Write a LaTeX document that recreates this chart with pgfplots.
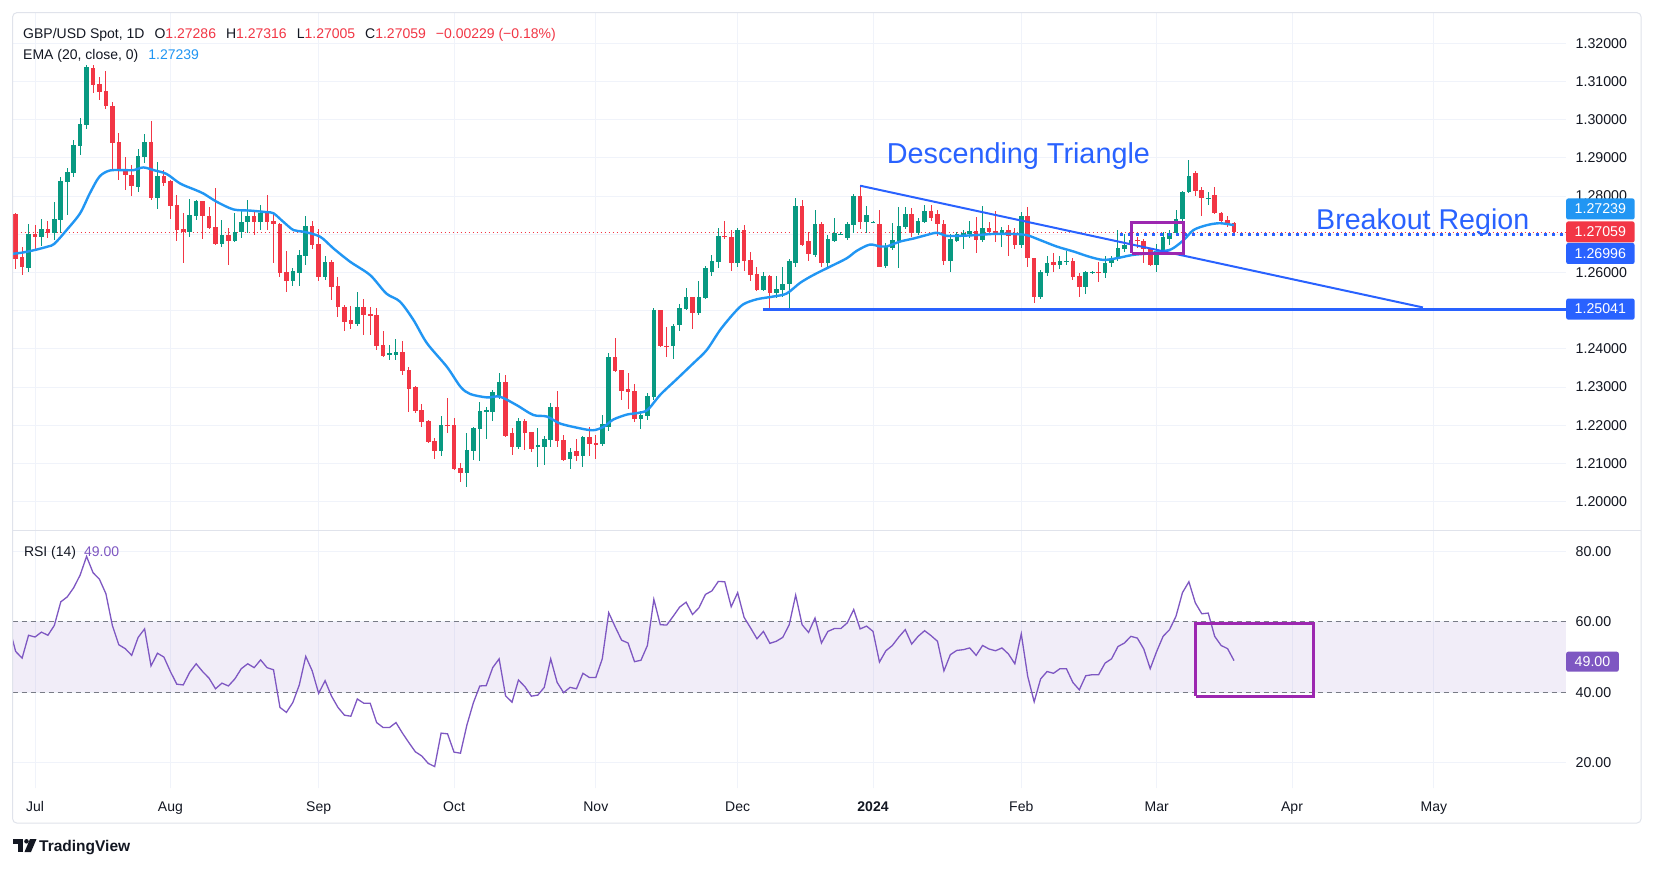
\documentclass[border=0pt]{standalone}
\usepackage{fontspec}
\setmainfont{Liberation Sans}
\usepackage{pgfplots}
\usepackage{pgfplotstable}
\pgfplotsset{compat=1.18}
\definecolor{up}{HTML}{089981}
\definecolor{dn}{HTML}{F23645}
\definecolor{ema}{HTML}{2196F3}
\definecolor{drw}{HTML}{2962FF}
\definecolor{rsi}{HTML}{7E57C2}
\definecolor{box}{HTML}{9C27B0}
\definecolor{txt}{HTML}{131722}
\definecolor{gridc}{HTML}{F0F3FA}
\definecolor{framec}{HTML}{E0E3EB}
\definecolor{dashc}{HTML}{787B86}
\newcommand{\fs}[1]{\fontsize{#1}{#1}\selectfont}

\pgfplotstableread{
i o h l c
-1 1.2613 1.2727 1.2601 1.2701
1 1.2694 1.2739 1.2670 1.2713
3 1.2703 1.2784 1.2685 1.2739
4 1.2738 1.2851 1.2703 1.2840
5 1.2837 1.2873 1.2751 1.2862
6 1.2860 1.2947 1.2851 1.2934
7 1.2931 1.3004 1.2908 1.2989
8 1.2987 1.3143 1.2975 1.3139
16 1.2825 1.2923 1.2812 1.2906
17 1.2902 1.2963 1.2888 1.2941
19 1.2796 1.2889 1.2765 1.2853
24 1.2706 1.2792 1.2692 1.2751
25 1.2749 1.2790 1.2738 1.2786
29 1.2676 1.2738 1.2668 1.2698
31 1.2683 1.2755 1.2679 1.2707
32 1.2707 1.2764 1.2690 1.2733
33 1.2731 1.2790 1.2703 1.2748
35 1.2733 1.2777 1.2711 1.2757
40 1.2579 1.2611 1.2565 1.2605
41 1.2600 1.2659 1.2565 1.2645
42 1.2643 1.2748 1.2620 1.2722
45 1.2589 1.2643 1.2580 1.2627
50 1.2465 1.2549 1.2460 1.2510
55 1.2386 1.2410 1.2371 1.2388
56 1.2384 1.2426 1.2371 1.2391
63 1.2133 1.2224 1.2120 1.2201
67 1.2076 1.2179 1.2039 1.2135
68 1.2133 1.2196 1.2109 1.2192
69 1.2190 1.2260 1.2107 1.2237
70 1.2237 1.2249 1.2164 1.2239
71 1.2236 1.2292 1.2210 1.2286
72 1.2275 1.2338 1.2270 1.2313
75 1.2142 1.2220 1.2137 1.2212
78 1.2144 1.2194 1.2092 1.2148
79 1.2144 1.2173 1.2095 1.2165
80 1.2162 1.2258 1.2144 1.2248
83 1.2112 1.2140 1.2085 1.2130
85 1.2120 1.2173 1.2092 1.2169
88 1.2151 1.2227 1.2145 1.2203
89 1.2196 1.2390 1.2186 1.2380
94 1.2217 1.2238 1.2190 1.2227
95 1.2224 1.2284 1.2214 1.2277
96 1.2273 1.2508 1.2265 1.2502
99 1.2408 1.2464 1.2374 1.2460
100 1.2463 1.2517 1.2448 1.2506
101 1.2504 1.2560 1.2502 1.2536
103 1.2493 1.2578 1.2489 1.2536
104 1.2534 1.2617 1.2530 1.2611
105 1.2602 1.2646 1.2592 1.2630
106 1.2628 1.2716 1.2611 1.2696
109 1.2624 1.2716 1.2615 1.2711
113 1.2554 1.2602 1.2552 1.2591
115 1.2547 1.2591 1.2534 1.2557
116 1.2554 1.2615 1.2535 1.2570
117 1.2569 1.2635 1.2502 1.2630
118 1.2626 1.2796 1.2614 1.2774
121 1.2646 1.2764 1.2641 1.2727
123 1.2626 1.2698 1.2615 1.2688
124 1.2683 1.2744 1.2681 1.2703
125 1.2701 1.2706 1.2697 1.2701
126 1.2691 1.2733 1.2685 1.2726
127 1.2724 1.2805 1.2703 1.2800
129 1.2733 1.2774 1.2703 1.2751
130 1.2731 1.2734 1.2729 1.2733
132 1.2617 1.2678 1.2612 1.2666
133 1.2663 1.2729 1.2658 1.2685
134 1.2683 1.2771 1.2613 1.2722
135 1.2720 1.2771 1.2714 1.2753
137 1.2704 1.2744 1.2699 1.2736
138 1.2733 1.2777 1.2730 1.2761
142 1.2631 1.2701 1.2600 1.2687
143 1.2683 1.2707 1.2680 1.2701
144 1.2700 1.2711 1.2662 1.2703
145 1.2701 1.2736 1.2690 1.2709
147 1.2685 1.2775 1.2680 1.2716
150 1.2701 1.2720 1.2668 1.2711
153 1.2672 1.2759 1.2665 1.2748
156 1.2537 1.2607 1.2530 1.2602
157 1.2600 1.2643 1.2590 1.2626
159 1.2619 1.2642 1.2610 1.2631
160 1.2628 1.2657 1.2620 1.2630
163 1.2563 1.2604 1.2543 1.2600
164 1.2599 1.2603 1.2596 1.2601
166 1.2598 1.2643 1.2585 1.2624
167 1.2624 1.2644 1.2615 1.2635
168 1.2635 1.2711 1.2630 1.2663
169 1.2661 1.2702 1.2655 1.2672
170 1.2672 1.2698 1.2657 1.2685
174 1.2621 1.2674 1.2602 1.2657
175 1.2655 1.2705 1.2650 1.2692
176 1.2689 1.2711 1.2672 1.2704
177 1.2704 1.2764 1.2698 1.2739
178 1.2739 1.2813 1.2736 1.2812
179 1.2812 1.2894 1.2809 1.2853
182 1.2795 1.2812 1.2777 1.2796
}\upTab

\pgfplotstableread{
i o h l c
-3 1.2753 1.2755 1.2608 1.2635
-2 1.2640 1.2666 1.2594 1.2615
0 1.2701 1.2724 1.2659 1.2694
2 1.2713 1.2736 1.2690 1.2704
9 1.3135 1.3143 1.3070 1.3091
10 1.3093 1.3111 1.3052 1.3073
11 1.3076 1.3128 1.3028 1.3036
12 1.3036 1.3047 1.2868 1.2940
13 1.2942 1.2964 1.2842 1.2868
14 1.2870 1.2903 1.2816 1.2854
15 1.2855 1.2882 1.2801 1.2826
18 1.2941 1.2997 1.2790 1.2796
20 1.2853 1.2868 1.2826 1.2835
21 1.2840 1.2842 1.2739 1.2775
22 1.2777 1.2803 1.2683 1.2711
23 1.2713 1.2755 1.2624 1.2705
26 1.2786 1.2788 1.2687 1.2749
27 1.2748 1.2772 1.2713 1.2717
28 1.2718 1.2820 1.2672 1.2675
30 1.2698 1.2716 1.2620 1.2683
34 1.2748 1.2764 1.2698 1.2733
36 1.2758 1.2803 1.2711 1.2731
37 1.2736 1.2755 1.2625 1.2727
38 1.2727 1.2730 1.2589 1.2600
39 1.2602 1.2657 1.2550 1.2579
43 1.2722 1.2736 1.2661 1.2672
44 1.2675 1.2713 1.2578 1.2589
46 1.2627 1.2633 1.2528 1.2563
47 1.2565 1.2589 1.2484 1.2509
48 1.2510 1.2515 1.2448 1.2471
49 1.2476 1.2513 1.2452 1.2465
51 1.2510 1.2531 1.2436 1.2489
52 1.2491 1.2509 1.2436 1.2489
53 1.2488 1.2506 1.2397 1.2408
54 1.2410 1.2447 1.2380 1.2382
57 1.2391 1.2422 1.2332 1.2343
58 1.2346 1.2354 1.2236 1.2295
59 1.2301 1.2303 1.2231 1.2238
60 1.2240 1.2255 1.2195 1.2210
61 1.2211 1.2214 1.2153 1.2157
62 1.2159 1.2166 1.2112 1.2133
64 1.2201 1.2271 1.2181 1.2200
65 1.2201 1.2218 1.2083 1.2087
66 1.2087 1.2102 1.2052 1.2076
73 1.2313 1.2332 1.2170 1.2173
74 1.2181 1.2192 1.2122 1.2142
76 1.2212 1.2217 1.2135 1.2180
77 1.2182 1.2183 1.2130 1.2138
81 1.2248 1.2290 1.2144 1.2160
82 1.2162 1.2176 1.2107 1.2109
84 1.2133 1.2164 1.2107 1.2120
86 1.2169 1.2196 1.2121 1.2152
87 1.2153 1.2176 1.2111 1.2148
90 1.2380 1.2428 1.2340 1.2343
91 1.2345 1.2345 1.2265 1.2291
92 1.2295 1.2336 1.2244 1.2288
93 1.2290 1.2308 1.2210 1.2217
97 1.2502 1.2502 1.2406 1.2409
98 1.2409 1.2458 1.2378 1.2408
102 1.2536 1.2536 1.2451 1.2495
107 1.2696 1.2735 1.2688 1.2694
108 1.2692 1.2711 1.2605 1.2624
110 1.2711 1.2724 1.2604 1.2631
111 1.2633 1.2655 1.2579 1.2594
112 1.2595 1.2614 1.2552 1.2554
114 1.2591 1.2594 1.2506 1.2547
119 1.2774 1.2790 1.2669 1.2671
120 1.2683 1.2706 1.2631 1.2648
122 1.2727 1.2733 1.2615 1.2626
128 1.2800 1.2827 1.2714 1.2733
131 1.2726 1.2764 1.2614 1.2615
136 1.2753 1.2768 1.2694 1.2704
139 1.2761 1.2777 1.2735 1.2744
140 1.2753 1.2764 1.2695 1.2726
141 1.2726 1.2737 1.2620 1.2631
146 1.2709 1.2746 1.2652 1.2685
148 1.2716 1.2733 1.2698 1.2707
149 1.2709 1.2762 1.2681 1.2703
151 1.2711 1.2724 1.2642 1.2696
152 1.2703 1.2716 1.2662 1.2672
154 1.2748 1.2772 1.2615 1.2637
155 1.2637 1.2639 1.2521 1.2537
158 1.2627 1.2650 1.2602 1.2619
161 1.2631 1.2639 1.2580 1.2589
162 1.2592 1.2598 1.2537 1.2563
165 1.2601 1.2628 1.2576 1.2599
171 1.2685 1.2694 1.2663 1.2684
172 1.2683 1.2689 1.2624 1.2661
173 1.2662 1.2664 1.2616 1.2621
180 1.2861 1.2867 1.2800 1.2814
181 1.2816 1.2825 1.2748 1.2794
183 1.2803 1.2823 1.2753 1.2755
184 1.2755 1.2759 1.2727 1.2736
185 1.2737 1.2748 1.2720 1.2729
186 1.27286 1.27316 1.27005 1.27059
}\dnTab

\pgfplotstableread{
i v
-4 1.2648
-2 1.2652
0 1.2659
2 1.2668
3 1.2675
4.9 1.2711
7 1.2755
8.5 1.2807
10 1.2851
11.6 1.2867
13.7 1.2868
15.3 1.2868
16.8 1.2875
18.4 1.2868
20.4 1.2858
22.5 1.2833
24.6 1.2818
26.1 1.2807
28.2 1.2785
30.8 1.2765
33.4 1.2762
35.9 1.2758
37 1.2755
38.5 1.2733
40.1 1.2711
41.6 1.2707
44.2 1.2694
46.3 1.2663
48.9 1.2628
52 1.2593
54.5 1.2545
56.6 1.2524
58.7 1.2476
60.8 1.2415
63.9 1.2353
66 1.2301
67.5 1.2282
70.1 1.2273
72.1 1.2275
74.7 1.2253
77.3 1.2227
79.4 1.2223
81.4 1.2205
84 1.2194
86.5 1.2187
88.2 1.2196
89.7 1.2215
91.8 1.2228
93.4 1.2232
95 1.2240
97 1.2280
99.5 1.2320
102.1 1.2362
104.2 1.2397
106.3 1.2450
108.4 1.2493
109.9 1.2517
112 1.2530
114.5 1.2537
116.6 1.2545
118.7 1.2573
120.7 1.2593
123.3 1.2615
125.9 1.2637
127.5 1.2657
129.5 1.2673
131.1 1.2668
132.1 1.2668
134.2 1.2681
136.3 1.2689
138.3 1.2698
139.9 1.2704
141.4 1.2696
143.5 1.2696
146.1 1.2698
148.7 1.2701
151.3 1.2701
153.8 1.2698
155.9 1.2685
158.5 1.2668
161.1 1.2655
163.6 1.2641
165.7 1.2633
167.7 1.2637
170.3 1.2646
172.9 1.2650
174.5 1.2655
176.3 1.2661
178.2 1.2685
179.7 1.2711
181.8 1.2724
183.8 1.2729
186 1.27239
}\emaTab

\pgfplotstableread{
i r
-4 58.5
-3 51.6
-2 49.7
-1 56.2
0 55.7
1 57.1
2 56.2
3 59.0
4 65.7
5 67.1
6 69.7
7 73.3
8 78.6
9 74.0
10 72.1
11 68.0
12 59.0
13 53.5
14 52.4
15 50.5
16 55.6
17 58.0
18 47.5
19 51.1
20 50.0
21 45.9
22 42.3
23 42.1
24 45.7
25 48.1
26 45.9
27 44.0
28 41.0
29 42.6
30 41.8
31 43.8
32 46.7
33 48.1
34 47.0
35 49.2
36 47.0
37 46.4
38 35.7
39 34.3
40 37.1
41 42.1
42 50.2
43 46.1
44 39.7
45 43.3
46 38.9
47 35.7
48 33.5
49 33.2
50 38.1
51 36.9
52 36.9
53 31.4
54 30.0
55 30.0
56 31.4
57 28.4
58 25.7
59 23.1
60 21.9
61 19.8
62 18.9
63 28.4
64 28.2
65 23.0
66 22.7
67 30.7
68 37.0
69 41.8
70 41.9
71 47.0
72 49.5
73 39.0
74 37.2
75 43.5
76 41.6
77 38.9
78 39.2
79 41.4
80 49.5
81 42.8
82 39.9
83 41.4
84 41.0
85 45.4
86 44.2
87 44.2
88 49.5
89 62.6
90 58.6
91 54.8
92 54.0
93 48.7
94 49.1
95 53.3
96 66.4
97 59.2
98 59.1
99 61.6
100 64.2
101 65.6
102 62.1
103 64.0
104 67.8
105 68.8
106 71.5
107 71.4
108 64.3
109 68.3
110 61.3
111 58.3
112 55.2
113 57.3
114 53.9
115 54.5
116 55.6
117 59.2
118 67.6
119 59.2
120 57.0
121 61.1
122 54.0
123 57.3
124 58.1
125 58.1
126 59.7
127 63.5
128 58.0
129 58.8
130 57.3
131 48.6
132 51.8
133 53.3
134 55.7
135 57.8
136 53.7
137 55.9
138 57.5
139 56.1
140 54.5
141 46.1
142 50.7
143 51.9
144 52.1
145 52.6
146 50.5
147 53.3
148 52.3
149 51.8
150 52.6
151 50.9
152 48.1
153 56.6
154 44.5
155 37.3
156 43.8
157 45.9
158 45.4
159 46.7
160 46.7
161 42.8
162 40.7
163 44.7
164 45.0
165 45.0
166 48.3
167 49.5
168 53.0
169 54.0
170 55.9
171 55.4
172 52.3
173 46.7
174 51.6
175 55.9
176 57.8
177 61.6
178 68.3
179 71.4
180 65.4
181 62.3
182 62.5
183 55.9
184 53.3
185 52.4
186 49.0
}\rsiTab

\begin{document}
\begin{tikzpicture}[x=1pt,y=1pt]
\fill[white] (0,0) rectangle (1654,868);
\path[use as bounding box] (0,0) rectangle (1654,868);

% ---------------- price panel ----------------
\begin{axis}[
  at={(12.7pt,337.3pt)}, anchor=south west,
  width=1553.3pt, height=518pt, scale only axis,
  xmin=-3.46, xmax=237.5, ymin=1.19241, ymax=1.32801,
  axis line style={draw=none},
  major tick length=0pt,
  xtick={0,21,44,65,87,109,130,153,174,195,217}, xticklabels={},
  ytick={1.20,1.21,1.22,1.23,1.24,1.25,1.26,1.27,1.28,1.29,1.30,1.31,1.32},
  grid=major, major grid style={draw=gridc, line width=1pt},
  yticklabel pos=right,
  /pgf/number format/assume math mode=true,
  yticklabel style={anchor=west, inner sep=0pt, xshift=9.5pt, font=\fs{14.2}, text=txt,
    /pgf/number format/fixed, /pgf/number format/fixed zerofill,
    /pgf/number format/precision=5, /pgf/number format/assume math mode=true},
]
% last price line
\addplot[dn, line width=1pt, dash pattern=on 1.5pt off 2.5pt, mark=none, forget plot]
  coordinates {(-3.46,1.27059) (237.5,1.27059)};
% wicks
\addplot[draw=none, mark=none, forget plot, error bars/.cd, y dir=both, y explicit,
  error mark=none, error bar style={draw=up, line width=1pt}]
  table[x=i, y expr={(\thisrow{h}+\thisrow{l})/2}, y error expr={(\thisrow{h}-\thisrow{l})/2}] {\upTab};
\addplot[draw=none, mark=none, forget plot, error bars/.cd, y dir=both, y explicit,
  error mark=none, error bar style={draw=dn, line width=1pt}]
  table[x=i, y expr={(\thisrow{h}+\thisrow{l})/2}, y error expr={(\thisrow{h}-\thisrow{l})/2}] {\dnTab};
% bodies
\addplot[draw=none, mark=none, forget plot, error bars/.cd, y dir=both, y explicit,
  error mark=none, error bar style={draw=up, line width=4.6pt}]
  table[x=i, y expr={(\thisrow{o}+\thisrow{c})/2}, y error expr={max(abs(\thisrow{c}-\thisrow{o})/2,0.00003)}] {\upTab};
\addplot[draw=none, mark=none, forget plot, error bars/.cd, y dir=both, y explicit,
  error mark=none, error bar style={draw=dn, line width=4.6pt}]
  table[x=i, y expr={(\thisrow{o}+\thisrow{c})/2}, y error expr={max(abs(\thisrow{c}-\thisrow{o})/2,0.00003)}] {\dnTab};
% EMA
\addplot[ema, line width=2.4pt, smooth, mark=none] table[x=i, y=v] {\emaTab};
% drawings
\addplot[drw, line width=2pt, mark=none] coordinates {(128.0,1.28272) (215.3,1.25085)};
\addplot[drw, line width=3pt, mark=none] coordinates {(112.9,1.25041) (237.5,1.25041)};
\addplot[drw, line width=3pt, dash pattern=on 3pt off 5pt, mark=none] coordinates {(168.3,1.26996) (237.5,1.26996)};
\addplot[box, line width=3pt, line join=miter, mark=none]
  coordinates {(170.1,1.26503) (178.2,1.26503) (178.2,1.27304) (170.1,1.27304) (170.1,1.26503)};
\end{axis}

% ---------------- RSI panel ----------------
\begin{axis}[
  at={(12.7pt,80pt)}, anchor=south west,
  width=1553.3pt, height=257.3pt, scale only axis,
  xmin=-3.46, xmax=237.5, ymin=12.81, ymax=85.91,
  axis line style={draw=none},
  major tick length=0pt,
  xtick={0,21,44,65,87,109,130,153,174,195,217},
  xticklabels={Jul,Aug,Sep,Oct,Nov,Dec,\textbf{2024},Feb,Mar,Apr,May},
  xticklabel style={anchor=base, yshift=-23.5pt, font=\fs{14}, text=txt},
  ytick={20,40,60,80},
  grid=major, major grid style={draw=gridc, line width=1pt},
  yticklabel pos=right,
  /pgf/number format/assume math mode=true,
  yticklabel style={anchor=west, inner sep=0pt, xshift=9.5pt, font=\fs{14.2}, text=txt,
    /pgf/number format/fixed, /pgf/number format/fixed zerofill,
    /pgf/number format/precision=2, /pgf/number format/assume math mode=true},
]
\fill[rsi, opacity=0.1] (axis cs:-3.46,40) rectangle (axis cs:237.5,60);
\addplot[dashc, line width=1pt, dash pattern=on 5pt off 4pt, mark=none] coordinates {(-3.46,40) (237.5,40)};
\addplot[dashc, line width=1pt, dash pattern=on 5pt off 4pt, mark=none] coordinates {(-3.46,60) (237.5,60)};
\addplot[rsi, line width=1.3pt, mark=none] table[x=i, y=r] {\rsiTab};
\addplot[box, line width=3pt, line join=miter, mark=none]
  coordinates {(180.1,38.9) (198.3,38.9) (198.3,59.6) (180.1,59.6) (180.1,38.9)};
\end{axis}

% ---------------- frame ----------------
\draw[framec, line width=1pt, rounded corners=4pt] (12.7,855.3) rectangle (1641,45);
\draw[framec, line width=1.5pt] (12.7,337.3) -- (1641,337.3);

% ---------------- texts ----------------
\node[anchor=base west, inner sep=0pt, font=\fs{14}, text=txt] at (23,829.7)
  {GBP/USD Spot, 1D\hspace{10pt}O\textcolor{dn}{1.27286}\hspace{10pt}H\textcolor{dn}{1.27316}\hspace{10pt}L\textcolor{dn}{1.27005}\hspace{10pt}C\textcolor{dn}{1.27059}\hspace{10pt}\textcolor{dn}{−0.00229 (−0.18\%)}};
\node[anchor=base west, inner sep=0pt, font=\fs{14}, text=txt] at (23,808.7)
  {EMA (20, close, 0)\hspace{10pt}\textcolor{ema}{1.27239}};
\node[anchor=base west, inner sep=0pt, font=\fs{14}, text=txt] at (23.8,311.5)
  {RSI (14)\hspace{8pt}\textcolor{rsi}{49.00}};

\node[anchor=base west, inner sep=0pt, font=\fs{28.8}, text=drw] at (886.7,704.7) {Descending Triangle};
\node[anchor=base west, inner sep=0pt, font=\fs{28.6}, text=drw] at (1316,638) {Breakout Region};

% price scale labels
\tikzset{plab/.style={text=white, font=\fs{14.2}, inner xsep=8.5pt, inner ysep=0pt, minimum height=21pt, anchor=west, rounded corners=2pt}}
\node[plab, fill=ema] at (1566,659) {1.27239};
\node[plab, fill=dn] at (1566,636) {1.27059};
\node[plab, fill=drw] at (1566,614.5) {1.26996};
\node[plab, fill=drw] at (1566,558.9) {1.25041};
\node[plab, fill=rsi, minimum height=20pt] at (1566,206.3) {49.00};

% TradingView logo
\fill[txt] (13,29) rectangle (23,24.5);
\fill[txt] (18,24.5) rectangle (23,16);
\fill[txt] (26.5,26.7) circle (2.3);
\fill[txt] (30,29) -- (36.5,29) -- (31,16) -- (24.5,16) -- cycle;
\node[anchor=base west, inner sep=0pt, font=\bfseries\fs{15.5}, text=txt] at (39,17) {TradingView};
\end{tikzpicture}
\end{document}
